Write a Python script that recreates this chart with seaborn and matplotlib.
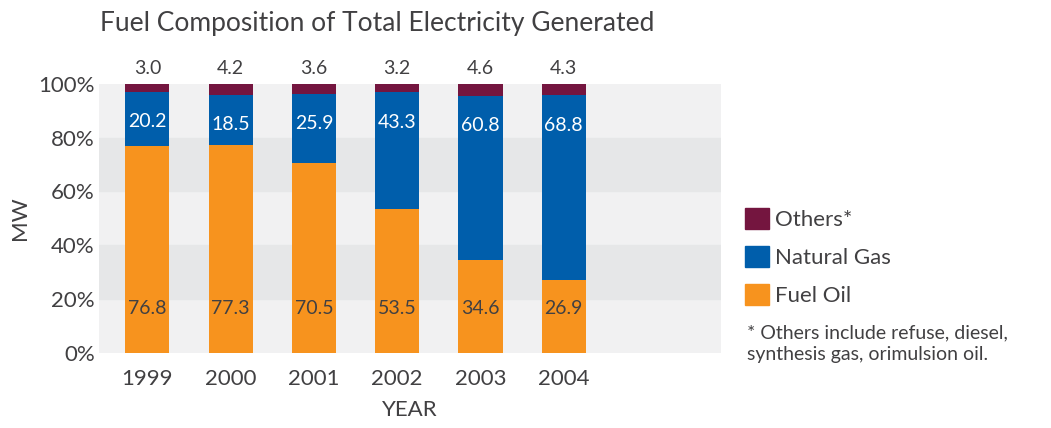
import matplotlib
matplotlib.use("Agg")
import pandas as pd
from matplotlib import pyplot as plt
from matplotlib.patches import Patch
from matplotlib.ticker import PercentFormatter
import seaborn as sns

sns.set_style("white")
plt.rcParams['font.family'] = ['Lato', 'DejaVu Sans']

# data
years = ['1999', '2000', '2001', '2002', '2003', '2004']
fuel_oil = [76.8, 77.3, 70.5, 53.5, 34.6, 26.9]
natural_gas = [20.2, 18.5, 25.9, 43.3, 60.8, 68.8]
others = [3.0, 4.2, 3.6, 3.2, 4.6, 4.3]

c_others = '#74153f'
c_gas = '#005eab'
c_fuel = '#f7931e'
txt = '#414042'

df = pd.DataFrame({'year': years, 'fuel': fuel_oil, 'gas': natural_gas, 'others': others})
df['gas_top'] = df['fuel'] + df['gas']
df['total'] = df['gas_top'] + df['others']

fig = plt.figure(figsize=(10.51, 4.28), dpi=100)
ax = fig.add_axes([0.0942, 0.176, 0.592, 0.628])

# background bands
ax.set_facecolor('#f1f1f2')
for lo in (20, 60):
    ax.axhspan(lo, lo + 20, color='#e6e7e8', zorder=0)

# stacked bars: draw cumulative totals, then overlay
bar_kw = dict(width=0.53, saturation=1, linewidth=0, edgecolor='none', ax=ax)
sns.barplot(data=df, x='year', y='total', color=c_others, zorder=2, **bar_kw)
sns.barplot(data=df, x='year', y='gas_top', color=c_gas, zorder=3, **bar_kw)
sns.barplot(data=df, x='year', y='fuel', color=c_fuel, zorder=4, **bar_kw)

for i, row in df.iterrows():
    ax.text(i, 16.6, f"{row['fuel']:.1f}", ha='center', va='center', fontsize=14, color=txt, zorder=5)
    ax.text(i, row['gas_top'] - 11, f"{row['gas']:.1f}", ha='center', va='center', fontsize=14,
            color='white', zorder=5)
    ax.text(i, 105.8, f"{row['others']:.1f}", ha='center', va='center', fontsize=14, color=txt,
            clip_on=False)

ax.set_xlim(-0.58, 6.89)
ax.set_ylim(0, 100)
ax.set_yticks(range(0, 101, 20))
ax.yaxis.set_major_formatter(PercentFormatter(decimals=0))
ax.tick_params(axis='y', length=0, pad=3, labelsize=16, labelcolor=txt)
ax.tick_params(axis='x', length=0, pad=12, labelsize=16, labelcolor=txt)
ax.set_xlabel('YEAR', fontsize=16, color=txt, labelpad=8)
ax.set_ylabel('MW', fontsize=16, color=txt, labelpad=6)
sns.despine(ax=ax, left=True, bottom=True)

fig.text(0.095, 0.945, 'Fuel Composition of Total Electricity Generated', fontsize=19,
         color=txt, ha='left', va='center')

handles = [Patch(color=c_others, label='Others*'),
           Patch(color=c_gas, label='Natural Gas'),
           Patch(color=c_fuel, label='Fuel Oil')]
fig.legend(handles=handles, loc='upper left', bbox_to_anchor=(0.69, 0.56), frameon=False,
           fontsize=16, handlelength=1.05, handleheight=1.05, labelspacing=0.72,
           handletextpad=0.3, labelcolor=txt)

fig.text(0.711, 0.197, '* Others include refuse, diesel,\nsynthesis gas, orimulsion oil.',
         fontsize=14, color=txt, ha='left', va='center', linespacing=1.4)

fig.savefig('out.png', dpi=100)
